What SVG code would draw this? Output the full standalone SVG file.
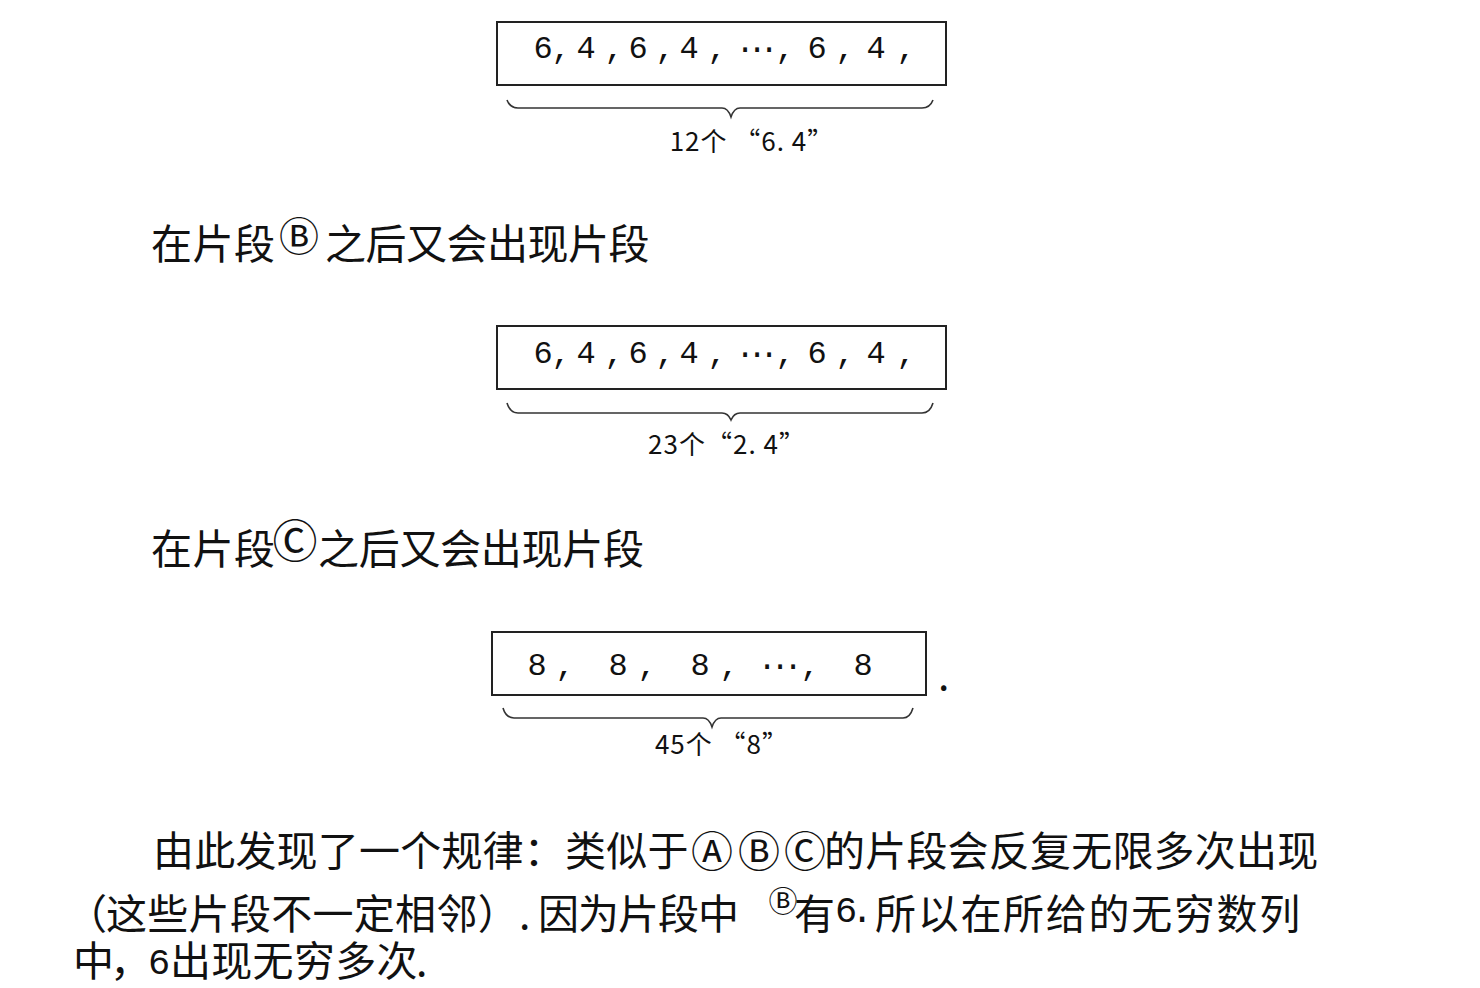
<svg xmlns="http://www.w3.org/2000/svg" width="1480" height="988" viewBox="0 0 1480 988">
<style>
.cjk{font-family:"Noto Sans CJK SC","Liberation Sans",sans-serif;fill:#111;font-size:41px}
.mono{font-family:"Liberation Mono","DejaVu Sans Mono",monospace;fill:#111;font-size:32px}
.lab{font-family:"Noto Sans CJK SC","Liberation Sans",sans-serif;fill:#111;font-size:26px}
.box{fill:none;stroke:#222;stroke-width:2}
.brace{fill:none;stroke:#333;stroke-width:1.6}
</style>
<rect width="1480" height="988" fill="#fff"/>

<g id="seg1">
<rect class="box" x="497" y="22" width="449" height="63"/>
<text class="mono" text-anchor="middle" y="58" x="543 561 586 614 638 665 689 717 745 757 769 785 817 845 876 906">6,4,6,4,···,6,4,</text>
</g>

<g id="seg2">
<rect class="box" x="497" y="326" width="449" height="63"/>
<text class="mono" text-anchor="middle" y="363" x="543 561 586 614 638 665 689 717 745 757 769 785 817 845 876 906">6,4,6,4,···,6,4,</text>
</g>

<g id="seg3">
<rect class="box" x="492" y="632" width="434" height="63"/>
<text class="mono" text-anchor="middle" y="675" x="537 565 618 647 700 729 767 780 793 810 863">8,8,8,···,8</text>
<text class="cjk" x="938" y="690">.</text>
</g>

<g id="connectors">
<path class="brace" d="M507,100 Q510,108 518,108 L722,108 Q728,108 731,117 Q734,108 740,108 L922,108 Q930,108 933,100"/>
<path class="brace" d="M507,403 Q510,413 518,413 L722,413 Q728,413 731,420 Q734,413 740,413 L922,413 Q930,413 933,403"/>
<path class="brace" d="M503,708 Q506,718 514,718 L703,718 Q709,718 712,727 Q715,718 721,718 L903,718 Q910,718 913,708"/>
</g>

<g id="labels">
<text class="lab" x="752" y="151" text-anchor="middle" letter-spacing="1">12个 “6. 4”</text>
<text class="lab" x="727" y="454" text-anchor="middle" letter-spacing="1">23个“2. 4”</text>
<text class="lab" x="722" y="754" text-anchor="middle" letter-spacing="1">45个 “8”</text>
</g>

<g id="heading1">
<text class="cjk" x="151" y="259" letter-spacing="0.5">在片段</text>
<text class="cjk" x="299" y="251" style="font-size:40px" text-anchor="middle">Ⓑ</text>
<text class="cjk" x="325" y="259" letter-spacing="-0.5">之后又会出现片段</text>
</g>

<g id="heading2">
<text class="cjk" x="151" y="564" letter-spacing="0.5">在片段</text>
<text class="cjk" x="295" y="558" style="font-size:45px" text-anchor="middle">Ⓒ</text>
<text class="cjk" x="318" y="564" letter-spacing="-0.3">之后又会出现片段</text>
</g>

<g id="paragraph">
<text class="cjk" x="153" y="866" letter-spacing="0.2">由此发现了一个规律：类似于</text>
<text class="cjk" y="867" style="font-size:42px" text-anchor="middle" x="712 759 805">ⒶⒷⒸ</text>
<text class="cjk" x="824" y="866" letter-spacing="0.2">的片段会反复无限多次出现</text>

<text class="cjk" x="66" y="929">（</text>
<text class="cjk" x="106" y="929" letter-spacing="0.3">这些片段不一定相邻）</text>
<text class="cjk" x="519" y="929">.</text>
<text class="cjk" x="538" y="929" letter-spacing="-1">因为片段中</text>
<text class="cjk" x="783" y="912" style="font-size:29px" text-anchor="middle">Ⓑ</text>
<text class="cjk" x="794" y="929">有</text>
<text class="mono" x="835 851" y="922" style="font-size:37px">6.</text>
<text class="cjk" x="875" y="929" letter-spacing="1.7">所以在所给的无穷数列</text>

<text class="cjk" x="73" y="976">中</text>
<text class="cjk" x="110" y="976">，</text>
<text class="mono" x="148" y="974" style="font-size:37px">6</text>
<text class="cjk" x="170" y="976" letter-spacing="0.3">出现无穷多次</text>
<text class="cjk" x="416" y="976">.</text>
</g>
</svg>
